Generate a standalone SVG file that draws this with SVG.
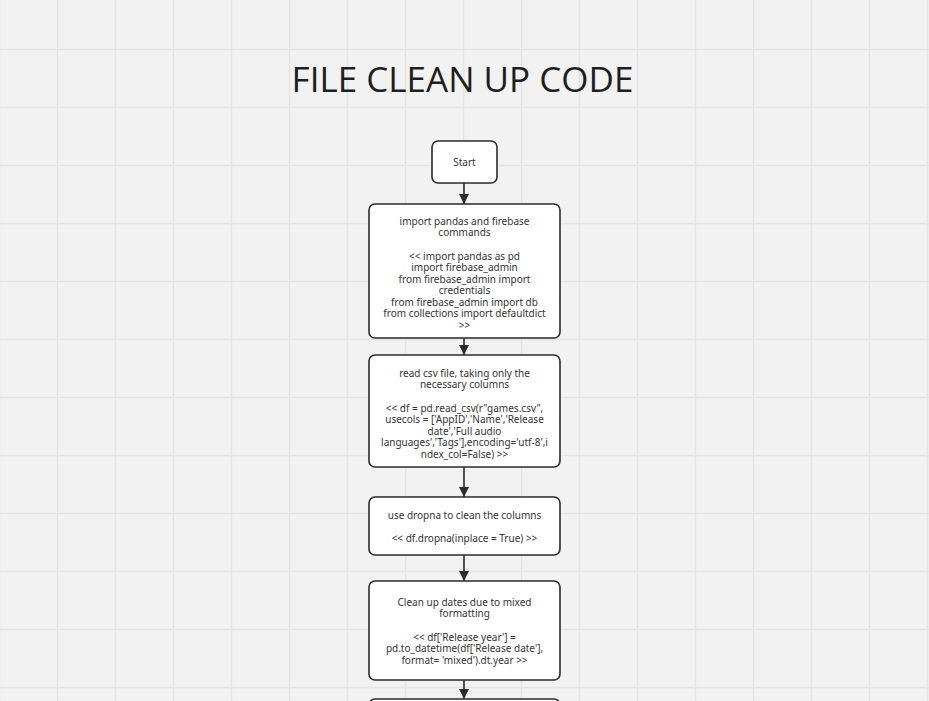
<svg xmlns="http://www.w3.org/2000/svg" width="929" height="701" viewBox="0 0 929 701">
<style>
.node rect{fill:#ffffff;stroke:#2b2b2b;stroke-width:1.6}
.t{font-family:"Noto Sans","Liberation Sans",sans-serif;font-size:10px;fill:#333333;text-anchor:middle}
.title{font-family:"Open Sans","Noto Sans",sans-serif;font-size:35px;fill:#1e1e1e;text-anchor:middle}
.conn line{stroke:#2b2b2b;stroke-width:1.6}
</style>
<defs>
<pattern id="grid" patternUnits="userSpaceOnUse" x="56" y="48" width="58" height="58">
<path d="M1.5 0V58M0 1.5H58" stroke="#e4e4e4" stroke-width="1.5" fill="none"/>
</pattern>
<marker id="arr" viewBox="0 0 10 10" refX="10" refY="5" markerWidth="10" markerHeight="10" markerUnits="userSpaceOnUse" orient="auto">
<path d="M0 0L10 5L0 10z" fill="#2b2b2b"/>
</marker>
</defs>
<rect width="929" height="701" fill="#f2f2f2"/>
<rect width="929" height="701" fill="url(#grid)"/>
<text class="title" x="462.5" y="92">FILE CLEAN UP CODE</text>
<g id="connectors" class="conn">
<line x1="464" y1="183" x2="464" y2="204" marker-end="url(#arr)"/>
<line x1="464" y1="338" x2="464" y2="355" marker-end="url(#arr)"/>
<line x1="464" y1="467" x2="464" y2="497" marker-end="url(#arr)"/>
<line x1="464" y1="555" x2="464" y2="581" marker-end="url(#arr)"/>
<line x1="464" y1="680" x2="464" y2="699" marker-end="url(#arr)"/>
</g>
<g id="start" class="node">
<rect x="432" y="141" width="65" height="42" rx="6"/>
<text class="t" x="464.5" y="165.5">Start</text>
</g>
<g id="imports" class="node">
<rect x="369" y="204" width="191" height="134" rx="6"/>
<text class="t" x="464.5" y="224.5">import pandas and firebase</text>
<text class="t" x="464.5" y="236">commands</text>
<text class="t" x="464.5" y="259.5">&lt;&lt; import pandas as pd</text>
<text class="t" x="464.5" y="271">import firebase_admin</text>
<text class="t" x="464.5" y="282.5">from firebase_admin import</text>
<text class="t" x="464.5" y="294">credentials</text>
<text class="t" x="464.5" y="305.5">from firebase_admin import db</text>
<text class="t" x="464.5" y="317">from collections import defaultdict</text>
<text class="t" x="464.5" y="328.5">&gt;&gt;</text>
</g>
<g id="readcsv" class="node">
<rect x="369" y="355" width="191" height="112" rx="6"/>
<text class="t" x="464.5" y="376.5">read csv file, taking only the</text>
<text class="t" x="464.5" y="388">necessary columns</text>
<text class="t" x="464.5" y="411.5">&lt;&lt; df = pd.read_csv(r"games.csv",</text>
<text class="t" x="464.5" y="423">usecols = ['AppID','Name','Release</text>
<text class="t" x="464.5" y="434.5">date','Full audio</text>
<text class="t" x="464.5" y="446">languages','Tags'],encoding='utf-8',i</text>
<text class="t" x="464.5" y="457.5">ndex_col=False) &gt;&gt;</text>
</g>
<g id="dropna" class="node">
<rect x="369" y="497" width="191" height="58" rx="6"/>
<text class="t" x="464.5" y="518.5">use dropna to clean the columns</text>
<text class="t" x="464.5" y="541.5">&lt;&lt; df.dropna(inplace = True) &gt;&gt;</text>
</g>
<g id="dates" class="node">
<rect x="369" y="581" width="191" height="99" rx="6"/>
<text class="t" x="464.5" y="605.5">Clean up dates due to mixed</text>
<text class="t" x="464.5" y="617">formatting</text>
<text class="t" x="464.5" y="640.5">&lt;&lt; df['Release year'] =</text>
<text class="t" x="464.5" y="652">pd.to_datetime(df['Release date'],</text>
<text class="t" x="464.5" y="663.5">format= 'mixed').dt.year &gt;&gt;</text>
</g>
<g id="next" class="node">
<rect x="369" y="699" width="191" height="60" rx="6"/>
</g>
</svg>
